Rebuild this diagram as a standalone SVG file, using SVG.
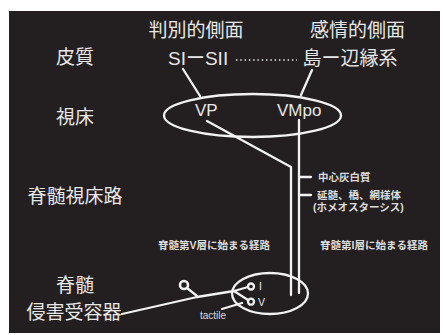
<svg xmlns="http://www.w3.org/2000/svg" width="443" height="335" viewBox="0 0 443 335">
<style>
.bg{fill:#231f20}
.t{fill:#e8e8e8;font-family:"Liberation Sans","Noto Sans CJK JP",sans-serif}
.L{font-size:19px}
.m{text-anchor:middle}
.s{font-size:10.5px;fill:#dcdcdc;font-weight:bold}
.ln{fill:none;stroke:#f2f2f2;stroke-width:2.3;stroke-linecap:round;stroke-linejoin:round}
.dot{fill:none;stroke:#f2f2f2;stroke-width:1.6;stroke-dasharray:1.4 2.9}
</style>
<rect x="0" y="0" width="443" height="335" fill="#ffffff"/>
<rect class="bg" x="9" y="11" width="431" height="322"/>

<g id="connectors">
<line class="ln" x1="183" y1="69" x2="200" y2="96"/>
<line class="ln" x1="312" y1="70" x2="301" y2="95"/>
<line class="dot" x1="236" y1="60" x2="297" y2="60"/>
<polyline class="ln" points="207,121 291,167 291,295"/>
<line class="ln" x1="299" y1="120" x2="299" y2="293"/>
<line class="ln" x1="299" y1="177" x2="311" y2="177"/>
<line class="ln" x1="299" y1="195" x2="311" y2="195"/>
<polyline class="ln" points="122,314 197,297 234,291"/>
<line class="ln" x1="234" y1="291" x2="248" y2="287"/>
<line class="ln" x1="234" y1="291" x2="248" y2="300"/>
<line class="ln" x1="187" y1="288" x2="197" y2="296"/>
<line class="ln" x1="222" y1="309" x2="242" y2="303"/>
</g>

<g id="heading-discriminative"><text class="t L m" x="196" y="37">判別的側面</text></g>
<g id="heading-affective"><text class="t L m" x="357.5" y="37">感情的側面</text></g>

<g id="label-cortex"><text class="t L m" x="75" y="64">皮質</text></g>
<g id="label-thalamus"><text class="t L m" x="75" y="124">視床</text></g>
<g id="label-spinothalamic"><text class="t L m" x="75" y="203">脊髄視床路</text></g>
<g id="label-spinalcord"><text class="t L m" x="75" y="292">脊髄</text></g>
<g id="label-nociceptor"><text class="t L m" x="74" y="319">侵害受容器</text></g>

<g id="cortex-SI-SII"><text class="t L" x="168" y="65">SIーSII</text></g>
<g id="cortex-insula-limbic"><text class="t L" x="302.5" y="65">島ー辺縁系</text></g>

<g id="thalamus">
<ellipse class="ln" cx="252.5" cy="115.5" rx="88.5" ry="21.5"/>
<text class="t" style="font-size:17px" x="195" y="116">VP</text>
<text class="t" style="font-size:17px" x="277" y="116">VMpo</text>
</g>

<g id="branch-pag"><text class="t s" x="318" y="181">中心灰白質</text></g>
<g id="branch-medulla">
<text class="t s" x="317" y="199">延髄、橋、網様体</text>
<text class="t s" x="313" y="211">(ホメオスターシス)</text>
</g>

<g id="path-laminaV"><text class="t s" x="158" y="249">脊髄第V層に始まる経路</text></g>
<g id="path-laminaI"><text class="t s" x="320" y="249">脊髄第I層に始まる経路</text></g>

<g id="spinal-cord">
<ellipse class="ln" cx="270" cy="293.5" rx="38" ry="20.5"/>
<circle class="ln" cx="251" cy="286.5" r="3"/>
<circle class="ln" cx="251" cy="301.7" r="3"/>
<text class="t" style="font-size:10.5px" x="259" y="290">I</text>
<text class="t" style="font-size:10.5px" x="258" y="306">V</text>
</g>

<g id="receptor"><circle class="ln" cx="184" cy="285" r="4" style="stroke-width:2.6"/></g>

<g id="tactile"><text class="t" style="font-size:10px;fill:#dcdcdc" x="200" y="319">tactile</text></g>
</svg>
